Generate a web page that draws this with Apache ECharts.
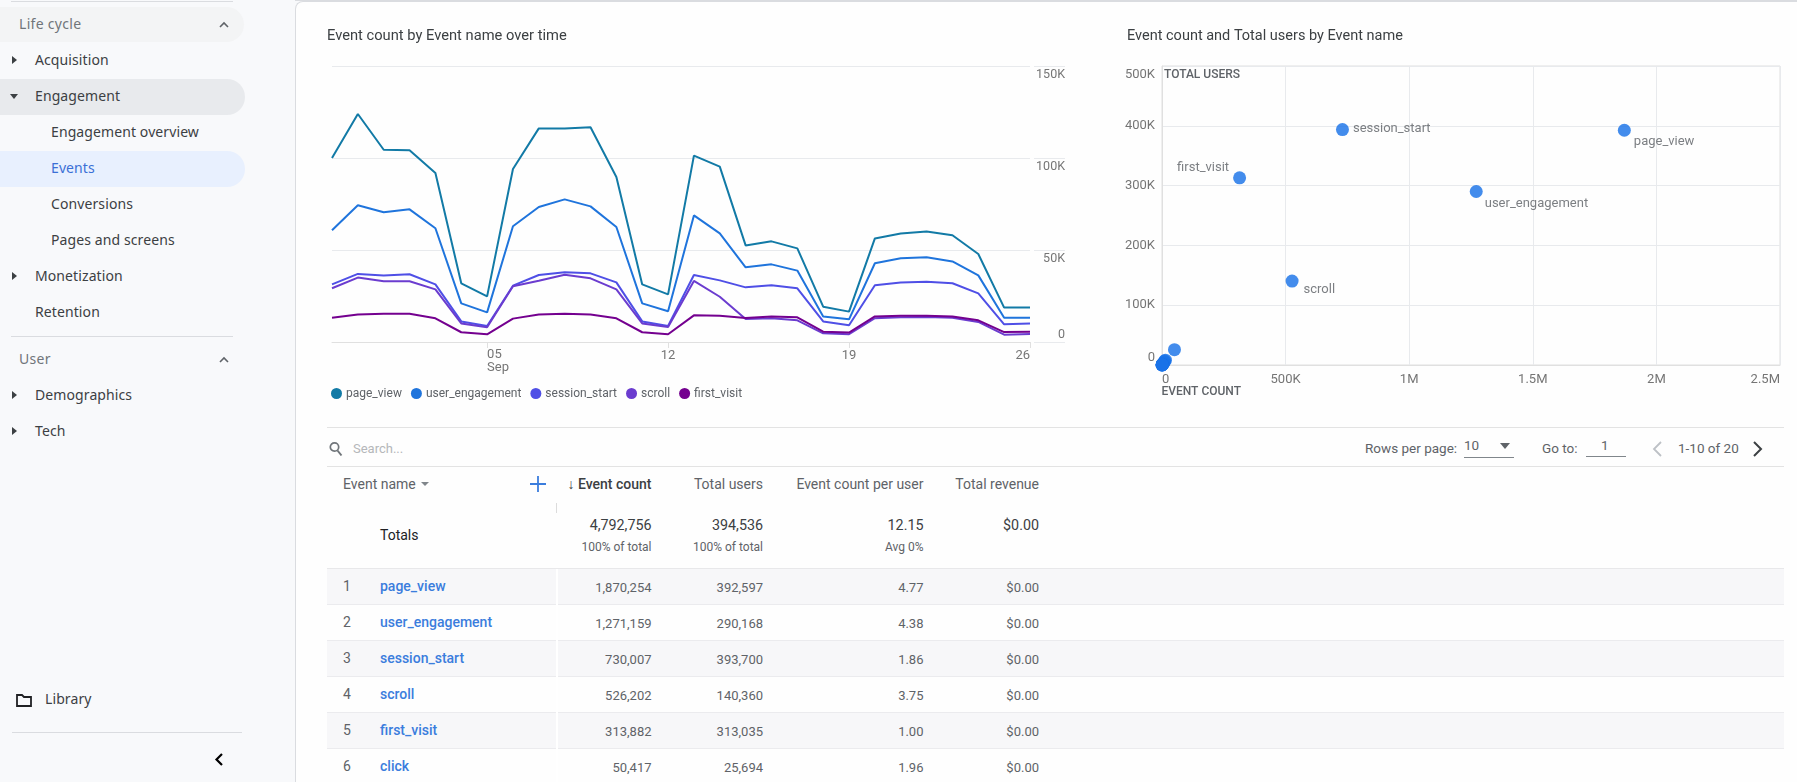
<!DOCTYPE html>
<html><head><meta charset="utf-8">
<script src="https://cdn.jsdelivr.net/npm/echarts@6/dist/echarts.min.js"></script>
<style>
html,body{margin:0;padding:0;width:1797px;height:782px;overflow:hidden;background:#f8f9fb;font-family:Roboto,sans-serif}
#card{position:absolute;left:295px;top:1px;width:1502px;height:781px;background:#fefefe;border-left:1px solid #dadce0;border-top:1px solid #dadce0;border-top-left-radius:8px;box-sizing:border-box}
#chart{position:absolute;left:0;top:0;width:1797px;height:440px;z-index:3}
#ui{position:absolute;left:0;top:0;width:1797px;height:782px;z-index:2}
.t{position:absolute;white-space:nowrap;line-height:20px;height:20px}
.b{position:absolute}
svg{position:absolute;overflow:visible}
</style></head><body>
<div id="card"></div><div id="ui"></div><div id="chart"></div>
<script>
// ---------- line chart data (thousands of events) ----------
const days = ['Aug 30','Aug 31','Sep 01','Sep 02','Sep 03','Sep 04','Sep 05','Sep 06','Sep 07','Sep 08','Sep 09','Sep 10','Sep 11','Sep 12','Sep 13','Sep 14','Sep 15','Sep 16','Sep 17','Sep 18','Sep 19','Sep 20','Sep 21','Sep 22','Sep 23','Sep 24','Sep 25','Sep 26'];
const dayLabels = {'Sep 05':'05\nSep','Sep 12':'12','Sep 19':'19','Sep 26':'26'};
const pageView = [100,123.9,104.5,104.2,91.8,31.9,24.8,94,116.1,116.1,116.7,89.7,31.3,25.9,101.3,95.3,52.5,54.7,50.9,19.2,16.5,56.3,59,60,58,47.8,18.7,18.7];
const userEngagement = [60.7,74.3,70.5,72.1,61.8,21,16.1,62.9,73.4,77.5,73.7,62.5,21,16.7,68.8,59,40.6,42.2,38.8,13.8,12.3,42.8,45.5,46,43.8,36.2,13.2,13.2];
const sessionStart = [31.3,37,36.2,36.8,31.3,11.2,8.7,30.6,36.4,37.9,37.3,32.4,11.2,8.7,36.4,33.5,29.7,30.8,29.2,11.2,9.1,30.8,32.4,32.8,31.9,26.4,9.6,10];
const scrollEvents = [29.2,35,33,33,28.6,10.1,8,30.3,33.3,36.6,34.6,28.6,10.1,8.2,33.2,24.6,12.5,12.9,11.8,4.7,4.2,12.9,13.4,13.6,13.2,10.9,4,4.3];
const firstVisit = [13.2,14.9,15.4,15.4,12.9,5.3,4.2,12.7,14.9,15.4,14.9,12.9,5.3,4.2,14.5,14.3,13,13.8,13.4,5.6,5.1,13.9,14.3,14.3,13.8,11.8,5.4,5.6];
const lineNames = ['page_view','user_engagement','session_start','scroll','first_visit'];
const lineValues = [pageView,userEngagement,sessionStart,scrollEvents,firstVisit];
const lineColors = ['#127aa6','#1f74dc','#4f4fe6','#6b3ccf','#74008f'];

// ---------- table / scatter data ----------
const eventNames = ['page_view','user_engagement','session_start','scroll','first_visit','click'];
const eventCounts = [1870254,1271159,730007,526202,313882,50417];
const totalUsers = [392597,290168,393700,140360,313035,25694];
const countPerUser = ['4.77','4.38','1.86','3.75','1.00','1.96'];
const revenue = ['$0.00','$0.00','$0.00','$0.00','$0.00','$0.00'];
const totals = ['4,792,756','394,536','12.15','$0.00'];
const totalsSub = ['100% of total','100% of total','Avg 0%',''];
const tableHeaders = ['Event count','Total users','Event count per user','Total revenue'];
// the remaining small events form one blob at the origin (estimated)
const smallEventCounts = [14000,11000,9000,6000,4500,3000,2500,1800,1200,900,600,400,250,100];
const smallEventUsers = [8000,6500,5000,3000,2200,1500,1200,900,600,450,300,200,120,50];

// ---------- sidebar text ----------
const sidebarHeads = ['Life cycle','User'];
const sidebarItems = ['Acquisition','Engagement','Monetization','Retention','Demographics','Tech'];
const sidebarSubItems = ['Engagement overview','Events','Conversions','Pages and screens'];

// ---------- page furniture ----------
const ui = document.getElementById('ui');
function box(x,y,w,h,bg,extra){const d=document.createElement('div');d.className='b';d.style.cssText=`left:${x}px;top:${y}px;width:${w}px;height:${h}px;background:${bg};${extra||''}`;ui.appendChild(d);return d;}
function text(s,x,y,o){o=o||{};const d=document.createElement('div');d.className='t';d.textContent=s;
  d.style.cssText=(o.right?`right:${1797-x}px;`:`left:${x}px;`)+`top:${y-10}px;font-size:${o.size||13}px;color:${o.color||'#5f6368'};font-weight:${o.weight||400};font-family:${o.font||'Roboto'},sans-serif;`+(o.ls?`letter-spacing:${o.ls}px;`:'');ui.appendChild(d);return d;}
function svg(x,y,w,h,inner){const s=document.createElementNS('http://www.w3.org/2000/svg','svg');s.setAttribute('width',w);s.setAttribute('height',h);s.style.left=x+'px';s.style.top=y+'px';s.innerHTML=inner;ui.appendChild(s);}
const sideFont="'Noto Sans'";
box(11,1,222,1,'#dadce0'); box(295,0,1502,1,'#dadce0');
box(0,7,244,35,'#f3f4f5','border-radius:0 18px 18px 0');
box(0,79,245,36,'#e8eaed','border-radius:0 18px 18px 0');
box(0,151,245,36,'#e8f0fe','border-radius:0 18px 18px 0');
box(11,336,222,1,'#dadce0'); box(12,732,230,1,'#dadce0');
text(sidebarHeads[0],19,24,{font:sideFont,size:14,color:'#70757a',ls:0.3});
text(sidebarHeads[1],19,359,{font:sideFont,size:14,color:'#70757a',ls:0.3});
[60,96,276,312,395,431].forEach((y,i)=>text(sidebarItems[i],35,y,{font:sideFont,size:14,color:'#3c4043',ls:0.1}));
[132,168,204,240].forEach((y,i)=>text(sidebarSubItems[i],51,y,{font:sideFont,size:14,color:i==1?'#3b6fd6':'#3c4043',ls:0.1}));
text('Library',45,699,{font:sideFont,size:14,color:'#3c4043',ls:0.1});
[60,276,395,431].forEach(y=>svg(12,y-4,5,8,'<path d="M0 0L5 4L0 8Z" fill="#3c4043"/>'));
svg(10,94,8,5,'<path d="M0 0L8 0L4 5Z" fill="#3c4043"/>');
[25,360].forEach(y=>svg(219,y-3,10,6,'<path d="M1 5L5 1L9 5" fill="none" stroke="#5f6368" stroke-width="1.6"/>'));
svg(16,694,16,13,'<path d="M1 1H6L8 3H15V12H1Z" fill="none" stroke="#202124" stroke-width="1.8"/>');
svg(215,753,8,13,'<path d="M7 1L1.5 6.5L7 12" fill="none" stroke="#000" stroke-width="2.2"/>');

// table
box(327,427,1457,1,'#e3e3e3'); box(327,466,1457,1,'#e3e3e3'); box(327,568,1457,1,'#e8e8ea');
[604,640,676,712,748].forEach(y=>box(327,y,1457,1,'#ebebee'));
[569,641,713].forEach(y=>box(327,y,1457,35,'#f7f7f9'));
box(556,569,2,213,'#fff'); box(556,503,1,10,'#dcdcdc');
svg(329,441,14,16,'<circle cx="5.5" cy="6" r="4.2" fill="none" stroke="#70757a" stroke-width="1.7"/><path d="M8.5 9.5L12.5 14.5" stroke="#70757a" stroke-width="2"/>');
text('Search...',353,449,{size:13,color:'#b5b7ba'});
text('Rows per page:',1365,448,{size:13.5});
text('10',1464,445,{size:13.5});
svg(1500,443,10,6,'<path d="M0 0H10L5 6Z" fill="#5f6368"/>');
box(1464,457,50,1,'#80868b');
text('Go to:',1542,448,{size:13.5});
text('1',1601,445,{size:13.5});
box(1586,456,40,1,'#80868b');
svg(1652,441,10,16,'<path d="M9 1L2 8L9 15" fill="none" stroke="#bdc1c6" stroke-width="1.8"/>');
text('1-10 of 20',1678,448,{size:13.5});
svg(1753,441,10,16,'<path d="M1 1L8 8L1 15" fill="none" stroke="#3c4043" stroke-width="2"/>');
text('Event name',343,484,{size:14});
svg(421,482,8,4,'<path d="M0 0H8L4 4Z" fill="#80868b"/>');
svg(530,475,16,18,'<path d="M8 1V17M0 9H16" stroke="#3b7ddd" stroke-width="1.8"/>');
const colRight = [651.5,763,923.5,1039];
tableHeaders.forEach((h,i)=>text((i==0?'↓ ':'')+h,colRight[i],484,{right:1,size:14,weight:i==0?500:400,color:i==0?'#3c4043':'#5f6368'}));
text('Totals',380,535,{size:14,weight:400,color:'#202124'});
totals.forEach((v,i)=>text(v,colRight[i],525,{right:1,size:14.3,color:'#3c4043'}));
totalsSub.forEach((v,i)=>{if(v)text(v,colRight[i],547,{right:1,size:12,color:'#5f6368'});});
eventNames.forEach((n,i)=>{const y=586.5+36*i;
  text(String(i+1),343,y-1,{size:14,color:'#5f6368'});
  text(n,380,y-1,{size:14,weight:500,color:'#3b7ddd'});
  [eventCounts[i].toLocaleString('en-US'),totalUsers[i].toLocaleString('en-US'),countPerUser[i],revenue[i]].forEach((v,c)=>text(v,colRight[c],y+1,{right:1,size:13,color:'#5f6368'}));
});

// ---------- charts ----------
const labelGrey = '#757575', gridGrey = '#e8eaed';
const scatterLabelPlacement = {
  session_start:{position:'right',offset:[-1,-1]},
  page_view:{position:'right',offset:[-2,12]},
  user_engagement:{position:'right',offset:[-3,12]},
  scroll:{position:'right',offset:[0,9]},
  first_visit:{position:'left',offset:[1,-10]}
};
const scatterData = eventNames.map((n,i)=>({name:n,value:[eventCounts[i],totalUsers[i]],
  label:scatterLabelPlacement[n]?{show:true,formatter:n,...scatterLabelPlacement[n]}:{show:false}}))
  .concat(smallEventCounts.map((c,i)=>({value:[c,smallEventUsers[i]]})));
const chart = echarts.init(document.getElementById('chart'),null,{renderer:'canvas'});
chart.setOption({
  animation:false,
  textStyle:{fontFamily:'Roboto'},
  title:[
    {text:'Event count by Event name over time',left:322,top:24,textStyle:{fontSize:14.7,fontWeight:400,color:'#3c4043',fontFamily:'Roboto'}},
    {text:'Event count and Total users by Event name',left:1122,top:24,textStyle:{fontSize:14.5,fontWeight:400,color:'#3c4043',fontFamily:'Roboto'}}
  ],
  legend:{left:326,top:382.5,icon:'circle',itemWidth:11,itemHeight:11,itemGap:9,data:lineNames,
    textStyle:{fontSize:12,color:'#5f6368',padding:[0,0,0,-1]}},
  grid:[
    {left:332,top:66,width:698,height:276},
    {left:1162,top:66,width:618,height:299,show:true,borderColor:'#e0e0e0',borderWidth:1,backgroundColor:'transparent'}
  ],
  xAxis:[
    {type:'category',gridIndex:0,data:days,boundaryGap:false,
      axisLine:{lineStyle:{color:'#e0e0e0'}},
      axisTick:{length:6,lineStyle:{color:'#e0e0e0'},interval:(i,v)=>v in dayLabels},
      splitLine:{show:false},
      axisLabel:{interval:(i,v)=>v in dayLabels,margin:6,fontSize:13,color:labelGrey,lineHeight:15,alignMaxLabel:'right',
        formatter:v=>dayLabels[v]==='05\nSep'?'{s|05}\n{s|Sep}':dayLabels[v],
        rich:{s:{width:24,padding:[0,0,0,24],align:'left',fontSize:13,color:labelGrey,lineHeight:13}}}},
    {type:'value',gridIndex:1,min:0,max:2500000,interval:500000,
      name:'EVENT COUNT',nameLocation:'start',nameGap:-79,
      nameTextStyle:{verticalAlign:'top',fontSize:12,fontWeight:500,color:'#5f6368',padding:[21,0,0,0]},
      axisLine:{show:true,lineStyle:{color:'#e0e0e0'}},axisTick:{show:false},
      splitLine:{lineStyle:{color:gridGrey}},
      axisLabel:{margin:8,fontSize:13,color:labelGrey,alignMinLabel:'left',alignMaxLabel:'right',
        formatter:v=>v===0?'0':v>=1e6?(v/1e6)+'M':(v/1e3)+'K'}}
  ],
  yAxis:[
    {type:'value',gridIndex:0,position:'right',offset:4,min:0,max:150000,interval:50000,
      axisLine:{show:false},
      axisTick:{show:true,length:31,lineStyle:{color:gridGrey}},
      splitLine:{lineStyle:{color:gridGrey}},
      axisLabel:{margin:31,fontSize:12.5,color:labelGrey,align:'right',verticalAlign:'top',verticalAlignMinLabel:'bottom',padding:[2,0,1,0],
        formatter:v=>v===0?'0':(v/1e3)+'K'}},
    {type:'value',gridIndex:1,min:0,max:500000,interval:100000,
      name:'TOTAL USERS',nameLocation:'end',nameGap:-9,
      nameTextStyle:{align:'left',verticalAlign:'middle',fontSize:12,fontWeight:500,color:'#5f6368',padding:[0,0,0,2]},
      axisLine:{show:true,lineStyle:{color:'#e0e0e0'}},axisTick:{show:false},
      splitLine:{lineStyle:{color:gridGrey}},
      axisLabel:{margin:7,fontSize:13,color:labelGrey,verticalAlignMinLabel:'bottom',verticalAlignMaxLabel:'top',padding:[2,0,1,0],
        formatter:v=>v===0?'0':(v/1e3)+'K'}}
  ],
  series:lineNames.map((n,i)=>({name:n,type:'line',xAxisIndex:0,yAxisIndex:0,showSymbol:false,
    data:lineValues[i].map(v=>v*1000),color:lineColors[i],lineStyle:{width:2,color:lineColors[i]},itemStyle:{color:lineColors[i]}}))
   .concat([{type:'scatter',xAxisIndex:1,yAxisIndex:1,clip:false,symbolSize:13,data:scatterData,
     itemStyle:{color:'#1a73e8',opacity:0.82},label:{color:'#5f6368',fontSize:13}}])
});
</script></body></html>
